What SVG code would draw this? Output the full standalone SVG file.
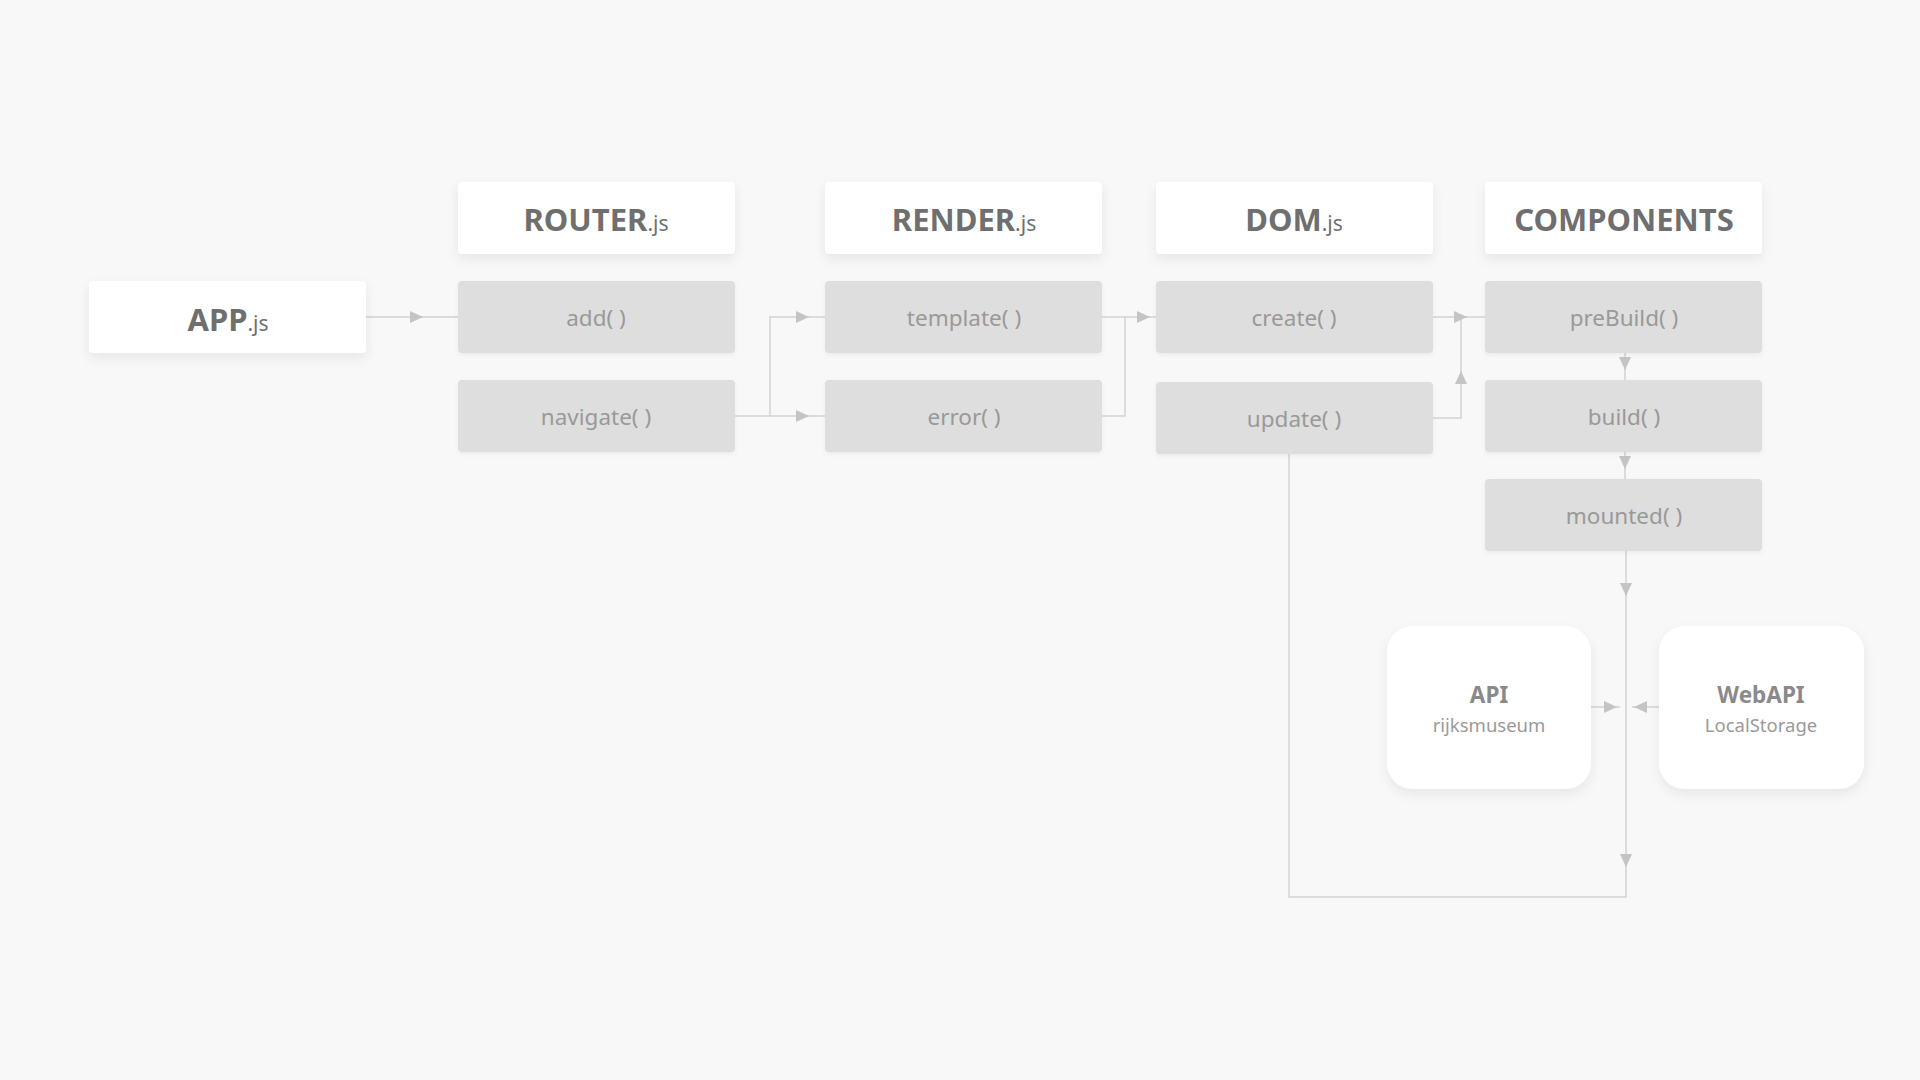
<svg xmlns="http://www.w3.org/2000/svg" width="1920" height="1080" viewBox="0 0 1920 1080">
<defs>
<filter id="sh" x="-20%" y="-30%" width="140%" height="170%">
<feDropShadow dx="0" dy="5" stdDeviation="6" flood-color="#000" flood-opacity="0.07"/>
</filter>
<filter id="sh2" x="-20%" y="-30%" width="140%" height="170%">
<feDropShadow dx="0" dy="2" stdDeviation="2" flood-color="#000" flood-opacity="0.05"/>
</filter>
<marker id="ah" markerUnits="userSpaceOnUse" markerWidth="14" markerHeight="12" refX="13" refY="6" orient="auto">
<path d="M0,0 L13,6 L0,12 z" fill="#c4c4c4"/>
</marker>
</defs>
<style>
.head{fill:#ffffff;filter:url(#sh)}
.meth{fill:#dedede;filter:url(#sh2)}
.card{fill:#ffffff;filter:url(#sh)}
.ht{font-family:"Noto Sans","Open Sans","DejaVu Sans",sans-serif;font-size:31px;font-weight:700;fill:#6f6f6f;text-anchor:middle}
.js{font-size:21px;font-weight:400}
.mt{font-family:"Noto Sans","Open Sans","DejaVu Sans",sans-serif;font-size:22.5px;fill:#999999;text-anchor:middle}
.ct{font-family:"Noto Sans","Open Sans","DejaVu Sans",sans-serif;font-size:22.5px;font-weight:700;fill:#8a8a8a;text-anchor:middle}
.cs{font-family:"Noto Sans","Open Sans","DejaVu Sans",sans-serif;font-size:18.5px;fill:#9a9a9a;text-anchor:middle}
.ln{fill:none;stroke:#d2d2d2;stroke-width:1.5}
.ar{fill:none;stroke:#d2d2d2;stroke-width:1.5;marker-end:url(#ah)}
</style>
<rect width="1920" height="1080" fill="#f8f8f8"/>

<g id="connectors">
<path class="ln" d="M366,317 L458,317"/>
<path class="ar" d="M410,317 L423,317"/>
<path class="ln" d="M735,416 L825,416 M770,416 L770,317 L825,317"/>
<path class="ar" d="M796,317 L809,317"/>
<path class="ar" d="M796,416 L809,416"/>
<path class="ln" d="M1102,317 L1156,317 M1102,416 L1125,416 L1125,317"/>
<path class="ar" d="M1137,317 L1150,317"/>
<path class="ln" d="M1433,317 L1485,317 M1433,418 L1461,418 L1461,317"/>
<path class="ar" d="M1454,317 L1467,317"/>
<path class="ar" d="M1461,382 L1461,371"/>
<path class="ln" d="M1625,353 L1625,381"/>
<path class="ar" d="M1625,359 L1625,370"/>
<path class="ln" d="M1625,452 L1625,480"/>
<path class="ar" d="M1625,458 L1625,469"/>
<path class="ln" d="M1626,551 L1626,897 L1289,897 L1289,454"/>
<path class="ar" d="M1626,585 L1626,596"/>
<path class="ar" d="M1626,856 L1626,867"/>
<path class="ln" d="M1591,707 L1620,707 M1659,707 L1632,707"/>
<path class="ar" d="M1604,707 L1617,707"/>
<path class="ar" d="M1647,707 L1634,707"/>
</g>

<g id="app"><rect class="head" x="89" y="281" width="277" height="72" rx="4"/><text class="ht" x="228" y="331">APP<tspan class="js">.js</tspan></text></g>

<g id="router"><rect class="head" x="458" y="182" width="277" height="72" rx="4"/><text class="ht" x="596" y="231">ROUTER<tspan class="js">.js</tspan></text></g>
<g id="add"><rect class="meth" x="458" y="281" width="277" height="72" rx="4"/><text class="mt" x="596" y="326">add( )</text></g>
<g id="navigate"><rect class="meth" x="458" y="380" width="277" height="72" rx="4"/><text class="mt" x="596" y="425">navigate( )</text></g>

<g id="render"><rect class="head" x="825" y="182" width="277" height="72" rx="4"/><text class="ht" x="964" y="231">RENDER<tspan class="js">.js</tspan></text></g>
<g id="template"><rect class="meth" x="825" y="281" width="277" height="72" rx="4"/><text class="mt" x="964" y="326">template( )</text></g>
<g id="error"><rect class="meth" x="825" y="380" width="277" height="72" rx="4"/><text class="mt" x="964" y="425">error( )</text></g>

<g id="dom"><rect class="head" x="1156" y="182" width="277" height="72" rx="4"/><text class="ht" x="1294" y="231">DOM<tspan class="js">.js</tspan></text></g>
<g id="create"><rect class="meth" x="1156" y="281" width="277" height="72" rx="4"/><text class="mt" x="1294" y="326">create( )</text></g>
<g id="update"><rect class="meth" x="1156" y="382" width="277" height="72" rx="4"/><text class="mt" x="1294" y="427">update( )</text></g>

<g id="components"><rect class="head" x="1485" y="182" width="277" height="72" rx="4"/><text class="ht" x="1624" y="231">COMPONENTS</text></g>
<g id="prebuild"><rect class="meth" x="1485" y="281" width="277" height="72" rx="4"/><text class="mt" x="1624" y="326">preBuild( )</text></g>
<g id="build"><rect class="meth" x="1485" y="380" width="277" height="72" rx="4"/><text class="mt" x="1624" y="425">build( )</text></g>
<g id="mounted"><rect class="meth" x="1485" y="479" width="277" height="72" rx="4"/><text class="mt" x="1624" y="524">mounted( )</text></g>

<g id="api"><rect class="card" x="1387" y="626" width="204" height="163" rx="26"/><text class="ct" x="1489" y="703">API</text><text class="cs" x="1489" y="732">rijksmuseum</text></g>
<g id="webapi"><rect class="card" x="1659" y="626" width="205" height="163" rx="26"/><text class="ct" x="1761" y="703">WebAPI</text><text class="cs" x="1761" y="732">LocalStorage</text></g>
</svg>
